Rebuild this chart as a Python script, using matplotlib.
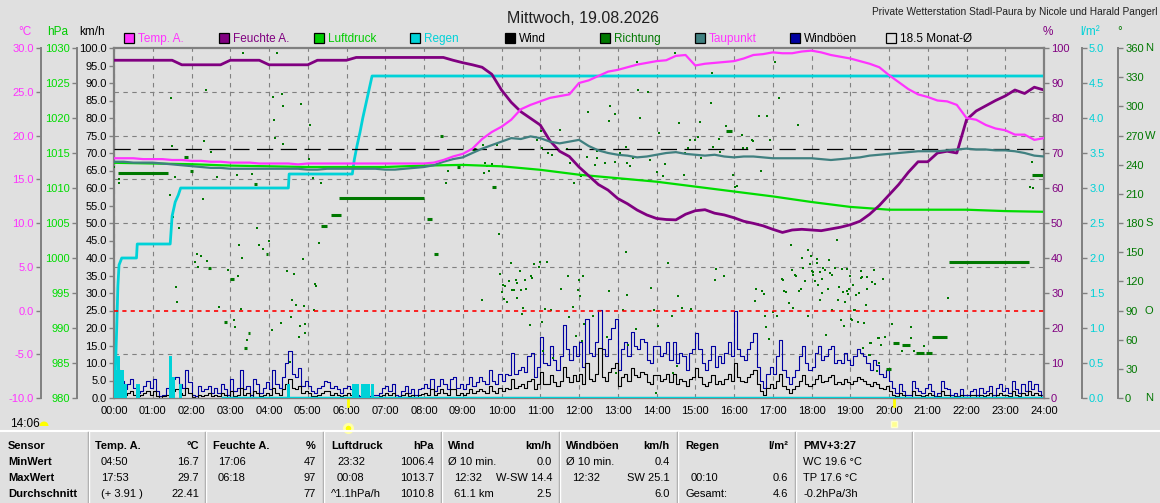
import numpy as np
import matplotlib.pyplot as plt
from matplotlib.patches import Rectangle, Wedge

plt.rcParams['font.family'] = ['Liberation Sans', 'DejaVu Sans']

# ---------------- Messwerte Mittwoch 19.08.2026 ----------------
# 15-Minuten-Werte 00:00 .. 24:00
temp_a = [17.4, 17.4, 17.4, 17.3, 17.3, 17.3, 17.2, 17.2,
          17.1, 17.1, 17.0, 17.0, 16.9, 16.9, 16.9, 16.8,
          16.8, 16.8, 16.8, 16.7, 16.8, 16.8, 16.8, 16.8,
          16.8, 16.8, 16.8, 16.8, 16.8, 16.8, 16.8, 16.8,
          16.8, 16.9, 17.2, 17.6, 17.9, 18.5, 19.6, 20.4,
          21.0, 21.8, 23.0, 23.5, 23.9, 24.3, 24.5, 24.7,
          26.0, 26.3, 26.8, 27.3, 27.5, 27.8, 28.1, 28.3,
          28.5, 28.6, 29.1, 29.2, 28.0, 28.2, 28.3, 28.4,
          28.5, 28.8, 29.2, 29.3, 29.5, 29.4, 29.4, 29.6,
          29.7, 29.5, 29.2, 29.0, 28.8, 28.5, 28.2, 27.8,
          26.9, 26.1, 25.3, 24.7, 24.4, 24.0, 23.9, 23.5,
          22.0, 21.8, 21.2, 20.8, 20.6, 20.1, 20.1, 19.5, 19.7]
taupunkt = [17.0, 17.0, 16.9, 16.9, 16.9, 16.8, 16.7, 16.6,
            16.5, 16.4, 16.3, 16.3, 16.2, 16.2, 16.2, 16.2,
            16.2, 16.2, 16.2, 16.2, 16.1, 16.1, 16.2, 16.2,
            16.2, 16.2, 16.2, 16.2, 16.1, 16.1, 16.2, 16.3,
            16.4, 16.6, 17.0, 17.3, 17.5, 18.0, 18.5, 18.9,
            19.3, 19.7, 19.6, 19.9, 19.7, 19.3, 19.1, 19.3,
            19.5, 18.8, 18.3, 18.0, 17.8, 17.7, 17.5, 17.6,
            17.8, 18.0, 18.1, 17.9, 17.8, 17.7, 17.8, 17.6,
            17.5, 17.6, 17.6, 17.5, 17.4, 17.4, 17.4, 17.4,
            17.4, 17.3, 17.2, 17.3, 17.4, 17.5, 17.7, 17.8,
            17.9, 18.0, 18.1, 18.2, 18.2, 18.2, 18.3, 18.4,
            18.5, 18.4, 18.4, 18.3, 18.3, 18.2, 18.0, 17.7, 17.6]
feuchte = [96.5, 96.5, 96.5, 96.5, 96.5, 96.5, 96.5, 95.2,
           95.2, 95.2, 95.2, 95.2, 96.5, 96.5, 96.5, 96.5,
           95.2, 95.2, 95.2, 95.2, 95.2, 96.5, 96.5, 96.5,
           96.5, 97.3, 97.3, 97.3, 97.3, 97.3, 97.3, 97.3,
           97.3, 97.3, 97.3, 96.5, 95.8, 95.2, 94.5, 92.5,
           88.0, 84.5, 81.8, 79.9, 78.0, 73.5, 70.5, 69.0,
           66.0, 63.5, 61.0, 59.4, 57.0, 55.5, 53.7, 52.3,
           51.3, 51.0, 50.9, 52.5, 53.5, 53.8, 52.8, 52.3,
           51.5, 50.5, 49.9, 49.2, 48.2, 47.3, 48.0, 48.2,
           48.0, 47.8, 48.3, 48.8, 49.5, 50.5, 52.5, 55.0,
           58.0, 61.0, 64.5, 67.5, 67.5, 70.0, 70.5, 70.0,
           79.5, 82.0, 83.5, 85.0, 86.3, 88.0, 87.0, 88.8, 88.0]
# Stundenwerte
luftdruck = [1013.6, 1013.5, 1013.4, 1013.2, 1013.1, 1013.0, 1013.0, 1013.0,
             1013.2, 1013.3, 1013.1, 1012.6, 1011.9, 1011.4, 1010.9, 1010.2,
             1009.5, 1008.8, 1008.0, 1007.3, 1006.9, 1006.9, 1006.9, 1006.7, 1006.6]
# 5-Minuten-Werte km/h
windboeen = [11.8, 8, 5, 2.5, 4, 5.5, 3, 1.5, 2, 3.5, 5, 3,
             5.5, 2, 0.5, 1, 3, 2, 5.5, 6, 4, 3, 8, 4.5,
             1, 0.5, 3.5, 2, 2.5, 3.5, 1.5, 3, 1.5, 4, 2.5, 1,
             5.5, 2, 3, 8, 2.5, 3.5, 1, 5.5, 4, 1.5, 3, 4.5,
             2.5, 8, 4, 3, 6, 10, 13.5, 7, 6, 8.5, 3.5, 5,
             3.5, 2, 1.5, 3, 3.5, 5, 4.5, 3, 3.5, 2.5, 1.5, 3,
             3.5, 2.5, 1.5, 0.8, 0.5, 1.2, 2, 0.5, 1, 0.8, 1.5, 3,
             3.5, 2, 4, 1, 0.5, 2, 3.5, 1.5, 2.5, 1, 2.5, 3,
             4, 3, 5.5, 2, 3.5, 5.5, 4, 2.5, 5.5, 6, 3, 4,
             2.5, 4, 6, 3.5, 4.5, 6, 5, 4, 8, 5, 4, 7,
             5, 7, 6.5, 13, 7, 8, 9, 7.5, 12, 13, 6, 9,
             17.5, 10, 9.5, 15, 11, 8, 12, 20.9, 14, 11, 15, 12,
             16, 9, 22.7, 13, 12, 16, 25.1, 14, 12, 17, 20, 22.7,
             8, 14, 16, 12, 19, 15, 14, 17, 16, 11, 10, 15,
             15, 12, 13, 16, 11, 16, 10, 13, 12, 8, 13, 14,
             18.7, 14, 10, 8, 11, 15, 9, 12, 10, 13, 16, 12,
             25, 14, 12, 11, 14, 16, 18.7, 9, 5, 3, 7, 9,
             7, 12, 16.5, 8, 6, 4, 6, 8, 12, 15, 10, 8,
             9, 13, 15, 11, 12, 14, 15, 10, 11, 10, 13, 11,
             9.5, 12, 14, 13, 12, 10, 8, 11, 9.5, 7, 6, 8,
             5, 3, 1.5, 4, 2, 0.8, 1, 5, 3, 2, 1.5, 3,
             4, 2, 0.5, 1.5, 5, 3, 2.5, 1, 1.5, 0.5, 2.5, 1,
             1, 2, 2.5, 0.8, 3, 1.5, 2, 3.5, 1, 3, 4, 2,
             3, 1.5, 5, 2.5, 1.5, 4, 2, 5, 2.5, 4, 2, 0.8,
             1]
wind = [4.5, 3, 2, 1, 1.5, 2, 1, 0.5, 1, 1.5, 2, 1,
        2, 0.5, 0, 0.5, 1, 0.5, 2, 2.5, 1.5, 1, 3, 1.5,
        0.3, 0, 1, 0.5, 1, 1.5, 0.5, 1, 0.5, 1.5, 1, 0.3,
        2, 0.5, 1, 3, 1, 1.5, 0.3, 2, 1.5, 0.5, 1, 1.5,
        1, 3, 1.5, 1, 2.5, 4, 5.5, 3, 2.5, 3.5, 1.5, 2,
        1.5, 0.5, 0.5, 1, 1.5, 2, 2, 1, 1.5, 1, 0.5, 1,
        1.5, 1, 0.5, 0.3, 0, 0.5, 0.8, 0, 0.3, 0.3, 0.5, 1,
        1.5, 0.8, 1.5, 0.3, 0, 0.8, 1.5, 0.5, 1, 0.3, 1, 1.2,
        1.5, 1, 2.5, 0.8, 1.5, 2.5, 1.5, 1, 2.5, 2.5, 1, 1.5,
        1, 1.5, 2.5, 1.5, 2, 2.5, 2, 1.5, 3.5, 2, 1.5, 3,
        2, 3, 2.5, 5.5, 3, 3.5, 4, 3, 5, 5.5, 2.5, 4,
        7.5, 4, 4, 6.5, 4.5, 3.5, 5, 9, 6, 4.5, 6.5, 5,
        7, 4, 10, 5.5, 5, 7, 14.4, 6, 5, 7.5, 8.5, 10,
        3.5, 6, 7, 5, 8.5, 6.5, 6, 7.5, 7, 4.5, 4, 6.5,
        6.5, 5, 5.5, 7, 4.5, 7, 4, 5.5, 5, 3.5, 5.5, 6,
        8.5, 6, 4, 3.5, 4.5, 6.5, 4, 5, 4, 5.5, 7, 5,
        10, 6, 5, 4.5, 6, 7, 8, 4, 2, 1, 3, 4,
        3, 5, 7, 3.5, 2.5, 1.5, 2.5, 3.5, 5, 6.5, 4, 3.5,
        4, 5.5, 6.5, 4.5, 5, 6, 6.5, 4, 4.5, 4, 5.5, 4.5,
        4, 5, 6, 5.5, 5, 4, 3.5, 4.5, 4, 3, 2.5, 3.5,
        2, 1, 0.5, 1.5, 0.8, 0.3, 0.3, 2, 1, 0.8, 0.5, 1,
        1.5, 0.8, 0, 0.5, 2, 1, 1, 0.3, 0.5, 0, 1, 0.3,
        0.3, 0.8, 1, 0.3, 1, 0.5, 0.8, 1.5, 0.3, 1, 1.5, 0.8,
        1, 0.5, 2, 1, 0.5, 1.5, 0.8, 2, 1, 1.5, 0.8, 0.3,
        0.3]
# Regen Tagessumme (Stunde, l/m2)
regen_zeit = [0.0, 0.03, 0.07, 0.1, 0.13, 0.2, 0.58, 0.6, 1.45, 1.5, 1.58, 1.66,
              1.72, 4.5, 4.52, 6.15, 6.2, 6.27, 6.35, 6.42, 6.5, 6.58, 6.66, 24.0]
regen_summe = [0.0, 0.3, 1.0, 1.6, 1.9, 2.0, 2.0, 2.2, 2.2, 2.6, 2.8, 2.9,
               3.0, 3.0, 3.2, 3.2, 3.4, 3.6, 3.8, 4.0, 4.2, 4.4, 4.6, 4.6]
# Regen je 5 Minuten
regen_bar_zeit = [0.0, 0.083, 0.167, 0.25, 0.58, 1.42, 1.5, 1.67, 4.47,
                  6.15, 6.23, 6.37, 6.45, 6.53, 6.62]
regen_bar_menge = [0.4, 0.6, 0.4, 0.2, 0.2, 0.6, 0.3, 0.2, 0.2,
                   0.2, 0.2, 0.2, 0.2, 0.2, 0.2]
regen_null_ab = 2.75
# Windrichtung (Stunde, Grad)
richtung_punkte = [
    (0.0, 238), (0.12, 225), (0.13, 221), (1.45, 209), (1.47, 309), (1.5, 259), (1.52, 186),
    (1.57, 227), (1.6, 114), (1.62, 99), (1.68, 175), (2.09, 140), (2.14, 148), (2.17, 135),
    (2.25, 146), (2.3, 205), (2.32, 264), (2.37, 317), (2.4, 141), (2.5, 253), (2.65, 227),
    (2.71, 94), (2.94, 132), (3.1, 80), (3.12, 73), (3.17, 229), (3.2, 125), (3.23, 157),
    (3.28, 92), (3.3, 144), (3.33, 355), (3.43, 60), (3.56, 230), (3.69, 175), (3.74, 157),
    (3.84, 153), (4.0, 162), (4.08, 70), (4.1, 310), (4.13, 286), (4.16, 267), (4.2, 355),
    (4.31, 77), (4.33, 313), (4.36, 300), (4.37, 261), (4.46, 131), (4.54, 37), (4.57, 83),
    (4.6, 101), (4.65, 128), (4.7, 96), (4.77, 63), (4.8, 74), (4.83, 302), (4.88, 143),
    (4.9, 95), (4.92, 76), (4.93, 67), (5.03, 246), (5.06, 281), (5.14, 226), (5.16, 91),
    (5.19, 117), (5.22, 115), (5.29, 159), (5.34, 221), (8.57, 221), (8.62, 234),
    (9.5, 101), (9.53, 260), (9.55, 231), (9.57, 242), (9.63, 239), (9.68, 234), (9.75, 241),
    (9.88, 260), (9.93, 169), (9.96, 128), (10.0, 109), (10.03, 116), (10.06, 102),
    (10.09, 115), (10.15, 99), (10.19, 120), (10.24, 139), (10.26, 111), (10.31, 111),
    (10.37, 121), (10.39, 103), (10.41, 118), (10.48, 131), (10.5, 111), (10.52, 86),
    (10.55, 93), (10.61, 121), (10.62, 112), (10.74, 75), (10.75, 125), (10.78, 123),
    (10.84, 138), (10.91, 265), (10.97, 135), (10.99, 140), (11.02, 275), (11.04, 78),
    (11.05, 257), (11.06, 48), (11.12, 92), (11.17, 140), (11.21, 252), (11.29, 91),
    (11.3, 250), (11.32, 41), (11.51, 276), (11.53, 112), (11.68, 256), (11.71, 125),
    (11.75, 83), (11.76, 242), (11.85, 94), (11.86, 221), (11.91, 64), (11.98, 111),
    (12.0, 121), (12.03, 105), (12.04, 228), (12.07, 59), (12.1, 125), (12.14, 76),
    (12.2, 248), (12.24, 294), (12.37, 84), (12.42, 240), (12.46, 247), (12.47, 254),
    (12.67, 242), (12.71, 63), (12.77, 110), (12.78, 285), (12.8, 300), (12.93, 292),
    (12.94, 243), (12.95, 26), (13.06, 252), (13.13, 91), (13.2, 150), (13.22, 258),
    (13.23, 242), (13.24, 106), (13.27, 55), (13.32, 239), (13.4, 247), (13.48, 71),
    (13.49, 346), (13.53, 317), (13.57, 288), (13.79, 315), (13.83, 245), (13.85, 113),
    (13.94, 91), (13.98, 5), (14.0, 232), (14.03, 74), (14.07, 273), (14.16, 228),
    (14.22, 241), (14.29, 139), (14.39, 84), (14.42, 26), (14.48, 355), (14.52, 33),
    (14.55, 105), (14.59, 283), (14.65, 93), (14.71, 229), (14.73, 252), (14.82, 257),
    (14.86, 265), (14.88, 92), (15.0, 265), (15.08, 268), (15.12, 284), (15.16, 247),
    (15.4, 303), (15.44, 334), (15.47, 258), (15.51, 121), (15.54, 133), (15.62, 266),
    (15.64, 253), (15.73, 126), (15.79, 280), (15.98, 229), (16.03, 217), (16.07, 218),
    (16.21, 271), (16.24, 257), (16.33, 257), (16.46, 265), (16.5, 264), (16.54, 100),
    (16.57, 112), (16.65, 290), (16.7, 233), (16.71, 110), (16.77, 107), (16.8, 84),
    (16.82, 73), (16.86, 290), (16.91, 61), (16.93, 265), (17.0, 88), (17.06, 346),
    (17.1, 84), (17.17, 309), (17.23, 122), (17.26, 121), (17.29, 110), (17.34, 109),
    (17.43, 98), (17.46, 157), (17.5, 132), (17.51, 93), (17.57, 127), (17.6, 126),
    (17.66, 281), (17.69, 110), (17.72, 112), (17.75, 144), (17.79, 134), (17.84, 120),
    (17.9, 152), (17.92, 84), (17.95, 138), (17.98, 146), (18.02, 131), (18.04, 127),
    (18.05, 130), (18.09, 120), (18.13, 143), (18.15, 139), (18.17, 116), (18.22, 130),
    (18.23, 101), (18.26, 122), (18.28, 108), (18.3, 134), (18.35, 132), (18.37, 65),
    (18.43, 112), (18.46, 142), (18.49, 129), (18.52, 127), (18.54, 91), (18.6, 134),
    (18.65, 163), (18.69, 101), (18.72, 114), (18.75, 80), (18.78, 133), (18.82, 109),
    (18.84, 74), (18.86, 99), (18.91, 133), (18.92, 110), (18.95, 107), (18.97, 112),
    (18.99, 125), (19.01, 81), (19.04, 80), (19.06, 116), (19.1, 91), (19.12, 91),
    (19.16, 106), (19.19, 78), (19.23, 108), (19.27, 131), (19.29, 123), (19.3, 124),
    (19.32, 51), (19.34, 51), (19.35, 77), (19.4, 96), (19.42, 124), (19.44, 112),
    (19.49, 44), (19.51, 44), (19.52, 57), (19.54, 57), (19.55, 119), (19.6, 132),
    (19.64, 117), (19.68, 28), (19.72, 62), (19.74, 62), (19.75, 36), (19.79, 55),
    (19.85, 122), (19.9, 63), (20.08, 76), (20.33, 48), (20.56, 62), (20.58, 73),
    (20.64, 48), (20.91, 54), (21.51, 103), (21.52, 90), (23.64, 217), (23.68, 243),
    (23.72, 216)]
richtung_strecken = [  # (von, bis, Grad)
    (0.1, 1.4, 231), (1.8, 1.9, 248), (1.95, 2.05, 234), (2.42, 2.5, 134),
    (2.85, 2.92, 78), (3.0, 3.1, 122), (3.35, 3.42, 51), (3.45, 3.52, 67),
    (3.6, 3.7, 220), (3.92, 3.98, 148), (5.35, 5.5, 177), (5.6, 5.85, 188),
    (5.8, 8.0, 206), (8.07, 8.2, 184), (8.25, 8.35, 148), (8.4, 8.5, 270),
    (8.85, 8.92, 238), (9.25, 9.35, 256), (9.75, 9.85, 217), (15.8, 15.95, 275),
    (19.93, 20.05, 30), (20.1, 20.25, 57), (20.33, 20.55, 55), (20.7, 20.9, 46),
    (20.95, 21.1, 46), (21.1, 21.5, 63), (21.55, 23.6, 140), (23.7, 24.0, 229)]
monat_mittel = 18.5
sonnenaufgang = 6.03
sonnenuntergang = 20.13

t15 = np.arange(len(temp_a)) / 4.0
t5 = np.arange(len(windboeen)) / 12.0
t60 = np.arange(len(luftdruck))

# ---------------- Farben ----------------
BG = '#e0e0e0'
C_TEMP = '#ff33ff'
C_HUM = '#800080'
C_PRESS = '#00dd00'
C_RAIN = '#00d2d8'
C_DIR = '#007800'
C_DEW = '#408080'
C_GUST = '#0000a0'
GRID = '#808080'

W, H = 1160, 503
fig = plt.figure(figsize=(W / 100, H / 100), dpi=100, facecolor=BG)
ax = fig.add_axes([114 / W, 1 - 398 / H, 930 / W, 350 / H], facecolor=BG)
ax.set_xlim(0, 24)
ax.set_ylim(0, 100)
ax.set_xticks(range(25))
ax.set_xticklabels([f'{h:02d}:00' for h in range(25)])
ax.set_yticks(np.arange(0, 101, 5))
ax.set_yticklabels([f'{v:.1f}' for v in np.arange(0, 101, 5)])
ax.tick_params(axis='x', length=0, pad=6, labelsize=8)
ax.tick_params(axis='y', direction='out', length=3.6, width=1, color=GRID, pad=1.5, labelsize=8)
ax.grid(axis='x', color=GRID, lw=0.8, ls=(0, (4, 4)))
for yv in [12.5, 37.5, 50, 62.5, 75, 87.5]:
    ax.axhline(yv, color=GRID, lw=0.8, ls=(0, (4, 4)), zorder=0.5)
for s in ['left', 'top', 'right']:
    ax.spines[s].set_color(GRID)
    ax.spines[s].set_linewidth(1.6)
ax.spines['bottom'].set_color(GRID)
ax.spines['bottom'].set_linewidth(1)


def twin(side, pos, lo, hi, ticks, labels, color):
    a = ax.twinx()
    a.set_xlim(0, 24)
    a.set_ylim(lo, hi)
    for s in a.spines.values():
        s.set_visible(False)
    sp = a.spines[side]
    sp.set_visible(True)
    sp.set_position(('axes', pos))
    sp.set_color(GRID)
    sp.set_linewidth(1.4)
    a.yaxis.set_ticks_position(side)
    a.set_yticks(ticks)
    a.set_yticklabels(labels)
    a.tick_params(axis='y', direction='out', length=3.6, width=1, color=GRID,
                  pad=1.5, labelsize=8, labelcolor=color)
    return a


dir_ticks = np.arange(0, 361, 30)
ax_dir = twin('right', 1 + 74 / 930, 0, 360, dir_ticks,
              [str(v) for v in dir_ticks], C_DIR)
rain_ticks = np.arange(0, 5.01, 0.5)
ax_rain = twin('right', 1 + 38 / 930, 0, 5, rain_ticks,
               [f'{v:.1f}' for v in rain_ticks], C_RAIN)
p_ticks = np.arange(980, 1031, 5)
ax_p = twin('left', -37 / 930, 980, 1030, p_ticks, [str(v) for v in p_ticks], C_PRESS)
h_ticks = np.arange(0, 101, 10)
ax_h = twin('right', 1.0, 0, 100, h_ticks, [str(v) for v in h_ticks], C_HUM)
t_ticks = np.arange(-10, 31, 5)
ax_t = twin('left', -73 / 930, -10, 30, t_ticks, [f'{v:.1f}' for v in t_ticks], C_TEMP)

# Wind / Boeen
ax.plot(t5, windboeen, drawstyle='steps-post', color=C_GUST, lw=0.8, zorder=2)
ax.plot(t5, wind, drawstyle='steps-post', color='black', lw=0.8, zorder=2.1)

# Richtung
rp_t = [p[0] for p in richtung_punkte]
rp_d = [p[1] for p in richtung_punkte]
ax_dir.plot(rp_t, rp_d, 's', ms=2.1, mew=0, color=C_DIR)
ax_dir.hlines([s[2] for s in richtung_strecken], [s[0] for s in richtung_strecken],
              [s[1] for s in richtung_strecken], color=C_DIR, lw=2.2)

# Regen
ax_rain.bar(regen_bar_zeit, regen_bar_menge, width=0.08, align='edge', color=C_RAIN, lw=0)
ax_rain.hlines(0, regen_null_ab, 24, color=C_RAIN, lw=2.5)
ax_rain.plot(regen_zeit, regen_summe, color=C_RAIN, lw=2)

# Luftdruck, Feuchte, Temperatur, Taupunkt
ax_p.plot(t60, luftdruck, color=C_PRESS, lw=1.6)
ax_h.plot(t15, feuchte, color=C_HUM, lw=2)
ax_t.axhline(0, color='#ff0000', lw=1.2, ls=(0, (2.5, 2.5)))
ax_t.axhline(monat_mittel, color='black', lw=0.9, ls=(0, (13, 6)))
ax_t.plot(t15, taupunkt, color=C_DEW, lw=1.6)
ax_t.plot(t15, temp_a, color=C_TEMP, lw=1.6)

# Himmelsrichtungen
for deg, ch in [(0, 'N'), (90, 'O'), (180, 'S'), (270, 'W'), (360, 'N')]:
    ax_dir.text(1.1086, deg, ch, transform=ax_dir.get_yaxis_transform(),
                color=C_DIR, fontsize=8, va='center', ha='left')

# Sonnenauf-/untergang
ax.plot([sonnenaufgang, sonnenaufgang], [-0.3, -2.4], color='#ffff00', lw=2, clip_on=False)
ax.plot([sonnenaufgang], [-8.6], 'o', ms=6, mfc='#ffff00', mec='#ffffa8', mew=2, clip_on=False)
ax.plot([sonnenuntergang, sonnenuntergang], [-0.3, -2.4], color='#ffff00', lw=2, clip_on=False)
ax.plot([sonnenuntergang], [-7.4], 's', ms=4, mfc='#ffff90', mec='#ffffd0', mew=1, clip_on=False)

# ---------------- Rahmen, Legende, Tabelle ----------------
ov = fig.add_axes([0, 0, 1, 1], facecolor='none')
ov.set_xlim(0, W)
ov.set_ylim(H, 0)
ov.axis('off')

ov.text(583, 18, 'Mittwoch, 19.08.2026', ha='center', va='center', fontsize=11.5, color='#202020')
ov.text(1157, 12, 'Private Wetterstation Stadl-Paura by Nicole und Harald Pangerl',
        ha='right', va='center', fontsize=7.3, color='#202020')

leg_names = ['Temp. A.', 'Feuchte A.', 'Luftdruck', 'Regen', 'Wind', 'Richtung',
             'Taupunkt', 'Windböen', f'{monat_mittel} Monat-Ø']
leg_fill = [C_TEMP, C_HUM, '#00cc00', C_RAIN, 'black', C_DIR, C_DEW, C_GUST, BG]
leg_text = [C_TEMP, C_HUM, '#00cc00', C_RAIN, 'black', C_DIR, C_TEMP, 'black', 'black']
for i, (nm, fc, tc) in enumerate(zip(leg_names, leg_fill, leg_text)):
    x0 = 124 + 95.2 * i
    ov.add_patch(Rectangle((x0, 33), 10, 10, fc=fc, ec='black', lw=0.9))
    ov.text(x0 + 14, 38.5, nm, ha='left', va='center', fontsize=8.5, color=tc)

for x, txt, col in [(25, '°C', C_TEMP), (58, 'hPa', '#00cc00'), (92, 'km/h', 'black'),
                    (1048, '%', C_HUM), (1090, 'l/m²', C_RAIN), (1120, '°', C_DIR)]:
    ov.text(x, 32, txt, ha='center', va='center', fontsize=8.5, color=col)

ov.text(10, 424, '14:06', ha='left', va='center', fontsize=8.5)
ov.add_patch(Wedge((44, 426), 4.5, 180, 360, fc='#ffff00', ec='none'))

# Tabelle
ov.plot([0, W], [431, 431], color='white', lw=1.5)
for x in [88, 205, 323, 441, 559, 677, 795, 912]:
    ov.plot([x, x], [432, H], color='#a0a0a0', lw=1)
    ov.plot([x + 1, x + 1], [432, H], color='white', lw=1)

rows_y = [446, 462, 478, 494]
for y, txt in zip(rows_y, ['Sensor', 'MinWert', 'MaxWert', 'Durchschnitt']):
    ov.text(8, y, txt, ha='left', va='center', fontsize=8, fontweight='bold')

blocks = [
    (95, 199, 'Temp. A.', '°C', [(101, '04:50'), (101, '17:53'), (101, '(+ 3.91 )')],
     ['16.7', '29.7', '22.41']),
    (213, 316, 'Feuchte A.', '%', [(218, '17:06'), (218, '06:18'), (218, '')],
     ['47', '97', '77']),
    (331, 434, 'Luftdruck', 'hPa', [(337, '23:32'), (337, '00:08'), (331, '^1.1hPa/h')],
     ['1006.4', '1013.7', '1010.8']),
    (448, 552, 'Wind', 'km/h', [(448, 'Ø 10 min.'), (454, '12:32'), (454, '61.1 km')],
     ['0.0', 'W-SW 14.4', '2.5']),
    (566, 670, 'Windböen', 'km/h', [(566, 'Ø 10 min.'), (572, '12:32'), (572, '')],
     ['0.4', 'SW 25.1', '6.0']),
    (685, 788, 'Regen', 'l/m²', [(685, ''), (691, '00:10'), (685, 'Gesamt:')],
     ['', '0.6', '4.6']),
]
for xl, xr, head, unit, left, right in blocks:
    ov.text(xl, rows_y[0], head, ha='left', va='center', fontsize=8, fontweight='bold')
    ov.text(xr, rows_y[0], unit, ha='right', va='center', fontsize=8, fontweight='bold')
    for y, (xx, lt), rt in zip(rows_y[1:], left, right):
        ov.text(xx, y, lt, ha='left', va='center', fontsize=8)
        ov.text(xr, y, rt, ha='right', va='center', fontsize=8)

ov.text(803, rows_y[0], 'PMV+3:27', ha='left', va='center', fontsize=8, fontweight='bold')
for y, txt in zip(rows_y[1:], ['WC 19.6 °C', 'TP 17.6 °C', '-0.2hPa/3h']):
    ov.text(803, y, txt, ha='left', va='center', fontsize=8)

fig.savefig('out.png', dpi=100, facecolor=BG)
